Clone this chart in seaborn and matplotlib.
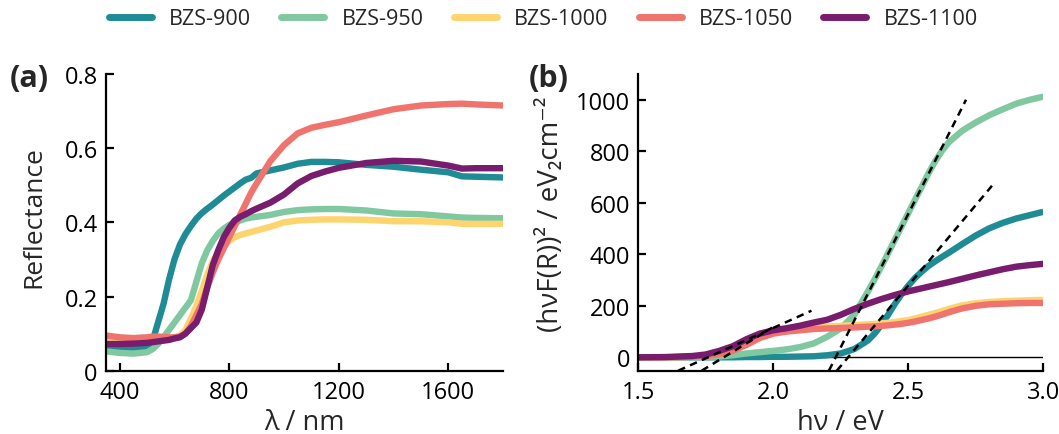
import numpy as np
import pandas as pd
import matplotlib
matplotlib.use("Agg")
import matplotlib.pyplot as plt
import seaborn as sns
from matplotlib.lines import Line2D

# ---------------- data ----------------
samples = ["BZS-900", "BZS-950", "BZS-1000", "BZS-1050", "BZS-1100"]
colors = ["#1f8c95", "#80c8a0", "#fed46e", "#f0746e", "#781c6e"]

wavelength = [350, 400, 450, 500, 520, 540, 560, 580, 600, 620, 640, 660, 680, 700,
              720, 740, 760, 780, 800, 820, 840, 860, 880, 900, 950, 1000, 1050, 1100,
              1150, 1200, 1300, 1400, 1500, 1600, 1650, 1700, 1800]
refl_900 = [0.065, 0.062, 0.062, 0.065, 0.08, 0.13, 0.18, 0.245, 0.30, 0.34, 0.368, 0.39,
            0.41, 0.425, 0.437, 0.448, 0.46, 0.472, 0.483, 0.494, 0.505, 0.515, 0.52,
            0.532, 0.54, 0.548, 0.558, 0.563, 0.563, 0.562, 0.555, 0.55, 0.542, 0.535,
            0.524, 0.523, 0.521]
refl_950 = [0.052, 0.048, 0.046, 0.05, 0.058, 0.072, 0.09, 0.11, 0.13, 0.15, 0.17, 0.19,
            0.24, 0.29, 0.325, 0.35, 0.37, 0.383, 0.393, 0.40, 0.405, 0.41, 0.413, 0.415,
            0.42, 0.428, 0.433, 0.435, 0.436, 0.436, 0.432, 0.424, 0.422, 0.416, 0.413,
            0.412, 0.411]
refl_1000 = [0.085, 0.082, 0.08, 0.082, 0.083, 0.084, 0.086, 0.088, 0.09, 0.095, 0.11,
             0.14, 0.175, 0.215, 0.26, 0.295, 0.32, 0.336, 0.35, 0.36, 0.366, 0.37, 0.374,
             0.378, 0.388, 0.40, 0.405, 0.407, 0.408, 0.408, 0.407, 0.403, 0.403, 0.40,
             0.396, 0.396, 0.396]
refl_1050 = [0.095, 0.09, 0.088, 0.09, 0.092, 0.092, 0.091, 0.09, 0.09, 0.092, 0.10,
             0.12, 0.15, 0.18, 0.225, 0.265, 0.30, 0.33, 0.36, 0.39, 0.42, 0.45, 0.48,
             0.505, 0.565, 0.608, 0.64, 0.655, 0.663, 0.67, 0.688, 0.705, 0.715, 0.719,
             0.72, 0.718, 0.715]
refl_1100 = [0.072, 0.072, 0.073, 0.075, 0.077, 0.079, 0.081, 0.083, 0.087, 0.09, 0.10,
             0.115, 0.13, 0.165, 0.225, 0.285, 0.325, 0.36, 0.385, 0.405, 0.415, 0.422,
             0.43, 0.437, 0.453, 0.475, 0.505, 0.525, 0.537, 0.547, 0.56, 0.566, 0.564,
             0.553, 0.545, 0.546, 0.546]

energy = [1.5, 1.6, 1.7, 1.75, 1.8, 1.85, 1.9, 1.95, 2.0, 2.05, 2.1, 2.15, 2.2, 2.25,
          2.3, 2.35, 2.375, 2.4, 2.425, 2.45, 2.475, 2.5, 2.525, 2.55, 2.575, 2.6, 2.625,
          2.65, 2.7, 2.75, 2.8, 2.85, 2.9, 2.95, 3.0]
tauc_900 = [0, 0, 0, 0, 0, 0, 1, 1, 2, 2, 3, 4, 8, 15, 32, 65, 92, 125, 165, 207, 245,
            278, 308, 333, 355, 373, 390, 406, 440, 473, 501, 522, 539, 552, 565]
tauc_950 = [0, 0, 1, 2, 3, 8, 15, 20, 25, 31, 40, 54, 80, 112, 165, 255, 302, 352, 404,
            456, 508, 560, 612, 663, 715, 762, 802, 835, 880, 912, 940, 963, 985, 1000,
            1012]
tauc_1000 = [0, 0, 2, 5, 13, 28, 52, 80, 98, 106, 112, 117, 120, 122, 125, 128, 130, 132,
             134, 137, 141, 145, 151, 158, 165, 172, 180, 188, 202, 210, 215, 218, 220,
             222, 223]
tauc_1050 = [0, 0, 2, 5, 12, 25, 48, 75, 92, 100, 105, 110, 112, 114, 116, 119, 120, 122,
             124, 127, 130, 134, 139, 145, 151, 158, 166, 175, 190, 200, 206, 208, 210,
             211, 211]
tauc_1100 = [0, 1, 5, 11, 25, 43, 70, 92, 105, 113, 123, 135, 146, 165, 188, 208, 217,
             226, 234, 242, 249, 256, 262, 268, 274, 280, 286, 292, 305, 318, 330, 342,
             352, 358, 363]

# linear (Tauc) fits: band gap (x-intercept), slope, upper end of the drawn fit line
fit_gap = [2.231, 2.277, 1.758, 1.816]
fit_slope = [2071, 1250, 472, 640]
fit_top = [1000, 666, 181, 115]

# ---------------- frames ----------------
refl = [refl_900, refl_950, refl_1000, refl_1050, refl_1100]
tauc = [tauc_900, tauc_950, tauc_1000, tauc_1050, tauc_1100]
dfa = pd.concat([pd.DataFrame({"wl": wavelength, "R": r, "sample": s})
                 for s, r in zip(samples, refl)], ignore_index=True)
dfb = pd.concat([pd.DataFrame({"E": energy, "V": v, "sample": s})
                 for s, v in zip(samples, tauc)], ignore_index=True)

# ---------------- style ----------------
sns.set_theme(style="ticks")
plt.rcParams["font.family"] = ["Open Sans", "DejaVu Sans"]

fig = plt.figure(figsize=(10.59, 4.35), dpi=100)
axa = fig.add_axes([0.1001, 0.1455, 0.3749, 0.6821])
axb = fig.add_axes([0.6027, 0.1455, 0.3825, 0.6821])

pal = dict(zip(samples, colors))
sns.lineplot(data=dfa, x="wl", y="R", hue="sample", hue_order=samples, palette=pal,
             lw=4.6, ax=axa, legend=False, estimator=None, sort=True)
sns.lineplot(data=dfb, x="E", y="V", hue="sample", hue_order=samples, palette=pal,
             lw=4.6, ax=axb, legend=False, estimator=None, sort=True)
for ln in axa.get_lines() + axb.get_lines():
    ln.set_solid_joinstyle("round")
    ln.set_solid_capstyle("butt")

axb.axhline(0, color="black", lw=1.0, zorder=1)
ybot = -52
for g, k, top in zip(fit_gap, fit_slope, fit_top):
    e0 = g + ybot / k
    e1 = g + top / k
    axb.plot([e0, e1], [ybot, top], color="black", lw=1.8,
             linestyle=(0, (3, 2.2)), zorder=5)

# ---------------- axes ----------------
tick_fs = 17
for ax in (axa, axb):
    for sp in ("top", "right"):
        ax.spines[sp].set_visible(False)
    for sp in ("left", "bottom"):
        ax.spines[sp].set_linewidth(1.6)
        ax.spines[sp].set_color("black")
    ax.tick_params(direction="in", length=6, width=1.6, labelsize=tick_fs,
                   colors="black")
    ax.tick_params(axis="x", pad=7)
    ax.tick_params(axis="y", pad=6)

axa.set_xlim(350, 1800)
axa.set_ylim(0, 0.8)
axa.set_xticks([400, 800, 1200, 1600])
axa.set_yticks([0, 0.2, 0.4, 0.6, 0.8])
axa.set_yticklabels(["0", "0.2", "0.4", "0.6", "0.8"])
axa.set_xlabel("λ / nm", fontsize=19.5)
axa.set_ylabel("Reflectance", fontsize=19)
axa.xaxis.set_label_coords(0.5, -0.125)
axa.yaxis.set_label_coords(-0.15, 0.52)

axb.set_xlim(1.5, 3.0)
axb.set_ylim(ybot, 1100)
axb.set_xticks([1.5, 2.0, 2.5, 3.0])
axb.set_xticklabels(["1.5", "2.0", "2.5", "3.0"])
axb.set_yticks([0, 200, 400, 600, 800, 1000])
axb.set_xlabel("hν / eV", fontsize=19.5)
axb.set_ylabel("(hνF(R))² / eV₂cm⁻²", fontsize=20)
axb.xaxis.set_label_coords(0.5, -0.125)
axb.yaxis.set_label_coords(-0.18, 0.53)

fig.text(0.009, 0.818, "(a)", fontsize=22, fontweight="bold", va="center")
fig.text(0.499, 0.818, "(b)", fontsize=22, fontweight="bold", va="center")

handles = [Line2D([], [], color=c, lw=5) for c in colors]
fig.legend(handles, samples, loc="center", bbox_to_anchor=(0.513, 0.955), ncol=5,
           frameon=False, fontsize=15.5, handlelength=2.0, columnspacing=1.4,
           handletextpad=0.8)

fig.savefig("out.png", dpi=100)
